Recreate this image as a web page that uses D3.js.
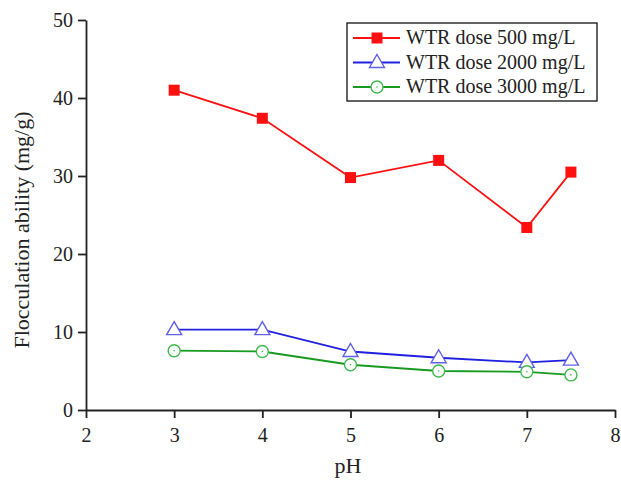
<!DOCTYPE html>
<html><head><meta charset="utf-8">
<script src="https://cdn.jsdelivr.net/npm/d3@7"></script>
<style>body{margin:0;background:#fff}svg{display:block}</style>
</head><body>
<svg id="c" width="621" height="480"></svg>
<script>
const pH = [3, 4, 5, 6, 7, 7.5];
const dose500 = [41.0, 37.4, 29.8, 32.0, 23.4, 30.5];
const dose2000 = [10.3, 10.3, 7.5, 6.7, 6.1, 6.4];
const dose3000 = [7.6, 7.5, 5.8, 5.0, 4.9, 4.5];
const seriesNames = ["WTR dose 500 mg/L", "WTR dose 2000 mg/L", "WTR dose 3000 mg/L"];
const xTicks = [2, 3, 4, 5, 6, 7, 8];
const yTicks = [0, 10, 20, 30, 40, 50];

const svg = d3.select("#c");
const font = "'Liberation Serif','Times New Roman',serif";
const x = d3.scaleLinear().domain([2, 8]).range([86, 615]);
const y = d3.scaleLinear().domain([0, 50]).range([410, 20]);

const xa = svg.append("g").attr("transform", "translate(0,410)")
  .call(d3.axisBottom(x).tickValues(xTicks).tickFormat(d3.format("d")).tickSize(8).tickSizeOuter(0).tickPadding(10));
const ya = svg.append("g").attr("transform", "translate(86,0)")
  .call(d3.axisLeft(y).tickValues(yTicks).tickFormat(d3.format("d")).tickSize(8).tickSizeOuter(0).tickPadding(5));
[xa, ya].forEach(a => {
  a.selectAll("path,line").attr("stroke", "#222").attr("stroke-width", 1.8);
  a.selectAll("text").attr("font-family", font).attr("font-size", 20).attr("fill", "#222");
});

svg.append("text").attr("x", 348).attr("y", 473).attr("text-anchor", "middle")
  .attr("font-family", font).attr("font-size", 22).attr("fill", "#222").text("pH");
svg.append("text").attr("transform", "translate(29,230) rotate(-90)").attr("text-anchor", "middle")
  .attr("font-family", font).attr("font-size", 22).attr("fill", "#222").text("Flocculation ability (mg/g)");

const series = [
  {name: seriesNames[0], vals: dose500, color: "#ff1010", marker: "square"},
  {name: seriesNames[1], vals: dose2000, color: "#2020e0", marker: "triangle"},
  {name: seriesNames[2], vals: dose3000, color: "#189a20", marker: "circle"}
];

function drawMarker(g, m, color, cx, cy) {
  if (m === "square") {
    g.append("rect").attr("x", cx - 5.5).attr("y", cy - 5.5).attr("width", 11).attr("height", 11).attr("fill", color);
  } else if (m === "triangle") {
    g.append("path").attr("d", `M${cx},${cy - 8}L${cx + 7.5},${cy + 5}L${cx - 7.5},${cy + 5}Z`)
      .attr("fill", "#fff").attr("stroke", "#6060e8").attr("stroke-width", 1.4);
  } else {
    g.append("circle").attr("cx", cx).attr("cy", cy).attr("r", 6).attr("fill", "#fff")
      .attr("stroke", "#40b850").attr("stroke-width", 1.4);
    g.append("circle").attr("cx", cx).attr("cy", cy).attr("r", 0.8).attr("fill", "#40b850");
  }
}

const line = d3.line().x(d => x(d[0])).y(d => y(d[1]));
series.forEach(s => {
  const pts = pH.map((p, i) => [p, s.vals[i]]);
  svg.append("path").datum(pts).attr("d", line).attr("fill", "none")
    .attr("stroke", s.color).attr("stroke-width", 1.8);
  const g = svg.append("g");
  pts.forEach(p => drawMarker(g, s.marker, s.color, x(p[0]), y(p[1])));
});

// legend
const lg = svg.append("g");
lg.append("rect").attr("x", 347).attr("y", 23).attr("width", 250).attr("height", 78)
  .attr("fill", "#fff").attr("stroke", "#222").attr("stroke-width", 1.4);
series.forEach((s, i) => {
  const cy = 38 + i * 24.5;
  lg.append("line").attr("x1", 353).attr("x2", 400).attr("y1", cy).attr("y2", cy)
    .attr("stroke", s.color).attr("stroke-width", 1.8);
  drawMarker(lg, s.marker, s.color, 377, cy);
  lg.append("text").attr("x", 406).attr("y", cy + 6).attr("font-family", font)
    .attr("font-size", 20).attr("fill", "#222").text(s.name);
});
</script>
</body></html>
